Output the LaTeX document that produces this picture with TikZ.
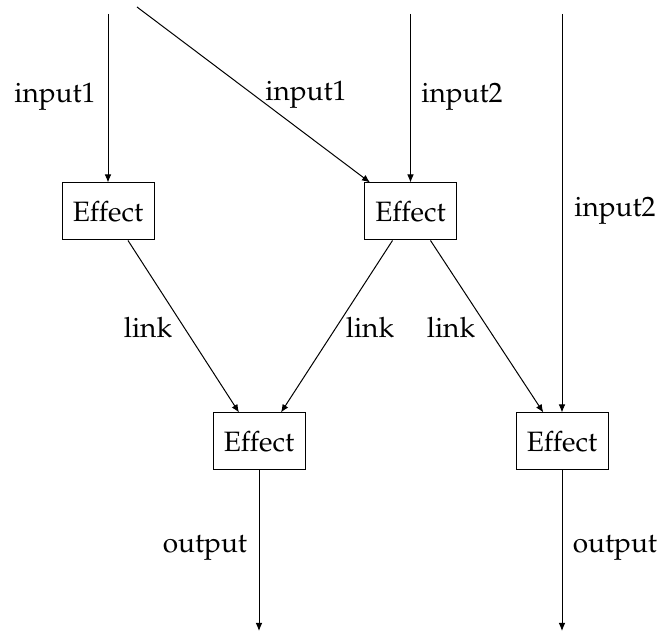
\documentclass[tikz,border=0pt]{standalone}
\usepackage[T1]{fontenc}
\usepackage{mathpazo}
\usetikzlibrary{arrows.meta}
\begin{document}
\begin{tikzpicture}[x=0.75pt,y=-0.75pt,
  every node/.style={font=\fontsize{21}{25}\selectfont},
  effbox/.style={draw,line width=0.75pt,minimum width=69pt,minimum height=42.75pt,inner sep=0pt},
  lbl/.style={inner sep=0pt},
  conn/.style={line width=0.75pt,-{Latex[length=6pt,width=5pt]}},
  plain/.style={line width=0.75pt}]
\useasboundingbox (0,0) rectangle (662,634);
\node[effbox] (A) at (108,211.5) {Effect};
\node[effbox] (B) at (410.5,211.5) {Effect};
\node[effbox] (C) at (259,441.5) {Effect};
\node[effbox] (D) at (562,441.5) {Effect};
\coordinate (a0) at (108,14);
\coordinate (d0) at (137,7);
\coordinate (b0) at (410.5,14);
\coordinate (e0) at (562,14);
\coordinate (c1) at (259,631);
\coordinate (e1) at (562,631);
\draw[conn] (a0) -- (A.north);
\draw[conn] (d0) -- ([xshift=4.5pt]B.north west);
\draw[conn] (b0) -- (B.north);
\draw[conn] (e0) -- (D.north);
\draw[conn] ([xshift=15pt]A.south) -- ([xshift=-15pt]C.north);
\draw[conn] ([xshift=-13.5pt]B.south) -- ([xshift=16.5pt]C.north);
\draw[conn] ([xshift=15pt]B.south) -- ([xshift=-14pt]D.north);
\draw[conn] (C.south) -- (c1);
\draw[conn] (D.south) -- (e1);
\node[lbl] (l1) at (55,97) {input1};
\node[lbl] (l2) at (306,95) {input1};
\node[lbl] (l3) at (462,97) {input2};
\node[lbl] (l4) at (615,211) {input2};
\node[lbl] (l5) at (148,327) {link};
\node[lbl] (l6) at (370,327) {link};
\node[lbl] (l7) at (451,327) {link};
\node[lbl] (l8) at (205,548) {output};
\node[lbl] (l9) at (615,548) {output};
\end{tikzpicture}
\end{document}
